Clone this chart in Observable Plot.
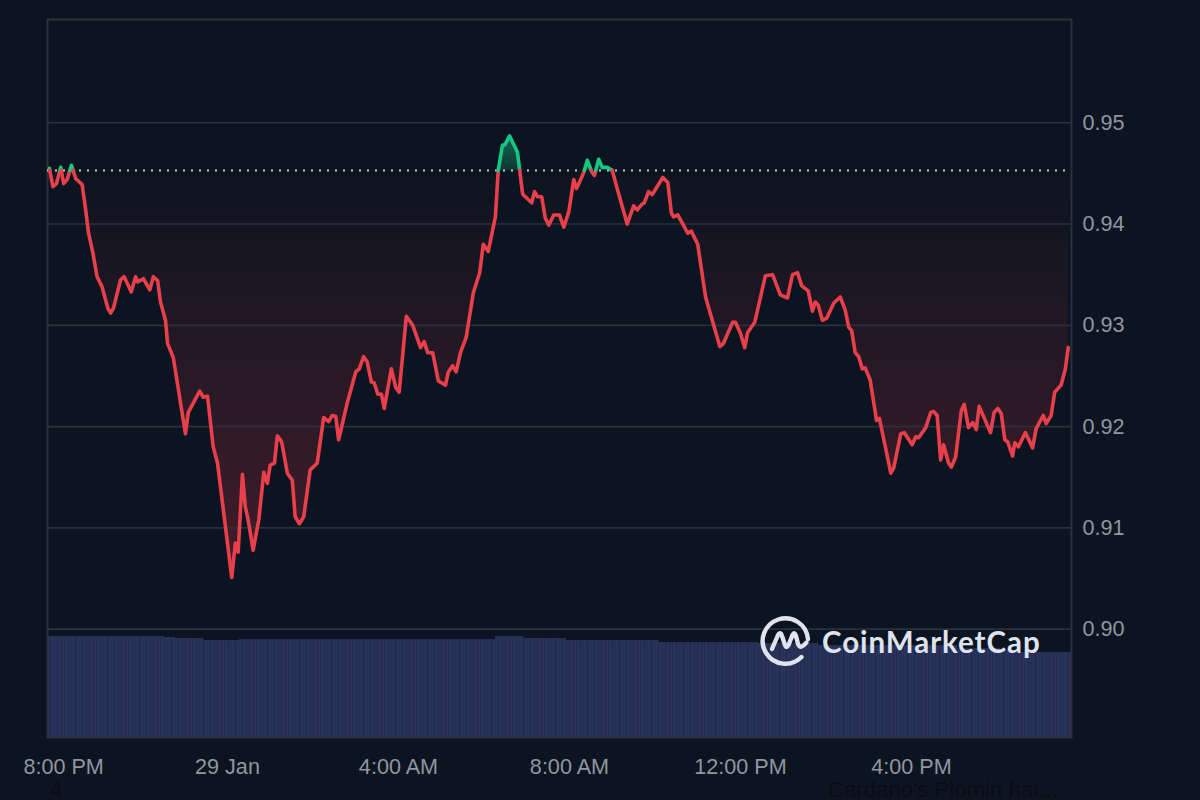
<!DOCTYPE html>
<html>
<head>
<meta charset="utf-8">
<script src="https://cdn.jsdelivr.net/npm/d3@7"></script>
<script src="https://cdn.jsdelivr.net/npm/@observablehq/plot@0.6"></script>
<style>
html,body{margin:0;padding:0;background:#0d1421;width:1200px;height:800px;overflow:hidden}
#wrap{position:relative;width:1200px;height:800px;overflow:hidden}
#wrap svg{display:block}
.note{position:absolute;font:22.2px "Liberation Sans",sans-serif;color:#090c13;white-space:nowrap;line-height:24px}
#logotext{position:absolute;left:822px;top:624px;font:700 29.5px Lato,sans-serif;color:#dfe3ee;white-space:nowrap;line-height:36px;letter-spacing:.95px}
#logoicon{position:absolute;left:751.5px;top:605.5px}
</style>
</head>
<body>
<div id="wrap"></div>
<script>
// minutes relative to midnight of 29 Jan
const minutes = [
-250,-245,-240,-234,-230,-225,-219,-213,-204,-199,
-195,-189,-183,-176,-168,-164,-160,-150,-145,-135,
-129,-126,-118,-109,-104,-98,-94,-87,-84,-76,
-59,-55,-39,-34,-28,-20,-14,6,11,15,
21,25,29,36,44,51,56,60,66,70,
76,84,91,95,101,107,116,126,135,142,
147,152,156,168,180,185,191,196,202,206,
211,216,220,230,236,241,251,260,271,276,
281,288,296,306,310,316,321,327,335,345,
354,359,366,376,380,386,389,396,407,414,
415,427,431,435,441,446,451,458,466,472,
479,486,490,500,505,511,515,521,526,533,
540,549,561,570,575,581,585,591,596,611,
618,623,626,632,646,651,660,671,691,696,
709,713,720,726,730,740,755,765,776,786,
793,800,806,815,821,825,829,835,841,851,
860,867,872,876,881,886,891,895,902,911,
915,931,935,945,950,961,966,970,980,987,
991,996,1001,1005,1012,1016,1022,1030,1034,1040,
1046,1051,1055,1071,1076,1081,1086,1091,1095,1102,
1105,1110,1120,1130,1135,1145,1149,1156,1161,1170,
1176,1180];
const prices = [
.9455,.9437,.9440,.9456,.9440,.9444,.9458,.9445,.9439,.9414,
.9391,.9372,.9348,.9338,.9317,.9312,.9317,.9345,.9348,.9333,
.9348,.9343,.9346,.9335,.9348,.9344,.9323,.9305,.9282,.9268,
.9193,.9214,.9235,.9229,.9230,.9180,.9164,.9051,.9085,.9076,
.9153,.9121,.9108,.9078,.9108,.9155,.9144,.9162,.9164,.9191,
.9185,.9154,.9147,.9111,.9104,.9111,.9157,.9164,.9209,.9205,
.9211,.9210,.9187,.9223,.9254,.9257,.9269,.9264,.9244,.9243,
.9232,.9232,.9218,.9257,.9239,.9234,.9309,.9300,.9278,.9284,
.9273,.9273,.9245,.9241,.9254,.9260,.9254,.9273,.9288,.9332,
.9352,.9380,.9373,.9407,.9453,.9478,.9478,.9487,.9471,.9431,
.9429,.9421,.9432,.9427,.9427,.9406,.9399,.9409,.9409,.9397,
.9412,.9444,.9435,.9451,.9463,.9452,.9448,.9464,.9456,.9456,
.9453,.9430,.9400,.9418,.9414,.9419,.9421,.9432,.9429,.9446,
.9441,.9411,.9407,.9409,.9391,.9393,.9380,.9328,.9279,.9282,
.9303,.9303,.9292,.9278,.9293,.9303,.9349,.9350,.9330,.9327,
.9350,.9352,.9339,.9334,.9314,.9323,.9320,.9305,.9307,.9322,
.9328,.9315,.9298,.9295,.9273,.9269,.9257,.9258,.9246,.9206,
.9208,.9154,.9159,.9193,.9194,.9182,.9190,.9189,.9199,.9214,
.9215,.9211,.9167,.9182,.9164,.9160,.9170,.9216,.9222,.9199,
.9204,.9197,.9220,.9194,.9214,.9218,.9213,.9187,.9185,.9171,
.9184,.9180,.9194,.9179,.9198,.9211,.9203,.9211,.9234,.9241,
.9257,.9278];
const basePrice = 0.9453;

// volume per five-minute bar (drawn in the lower band of the panel)
const volumes = [
101,101,101,101,101,101,101,101,101,101,101,101,
101,101,101,101,101,101,101,101,101,101,101,101,
101,101,101,101,101,101,101,101,101,100,100,100,
99,99,99,99,99,99,99,99,97,97,97,97,
97,97,97,97,97,97,98,98,98,98,98,98,
98,98,98,98,98,98,98,98,98,98,98,98,
98,98,98,98,98,98,98,98,98,98,98,98,
98,98,98,98,98,98,98,98,98,98,98,98,
98,98,98,98,98,98,98,98,98,98,98,98,
98,98,98,98,98,98,98,98,98,98,98,98,
98,98,98,98,98,98,101,101,101,101,101,101,
101,101,99,99,99,99,99,99,99,99,99,99,
99,99,97,97,97,97,97,97,97,97,97,97,
97,97,97,97,97,97,97,97,97,97,97,97,
97,97,97,97,95,95,95,95,95,95,95,95,
95,95,95,95,95,95,95,95,95,95,95,95,
95,95,95,95,95,95,95,95,94,94,94,94,
94,94,94,94,94,94,94,94,94,94,94,94,
94,92,92,92,92,92,92,92,92,92,92,92,
92,92,92,92,92,92,92,92,92,92,92,92,
92,92,92,92,92,92,92,92,92,92,92,92,
92,92,92,92,89,89,89,89,89,89,89,89,
89,89,89,89,87,87,87,87,87,85,85,85,
85,85,85,85,85,85,85,85,85,85,85,85];

const xTicks = [-230,0,240,480,720,960];
const xTickLabels = ["8:00 PM","29 Jan","4:00 AM","8:00 AM","12:00 PM","4:00 PM"];
const yTicks = [0.90,0.91,0.92,0.93,0.94,0.95];

const xDomain = [-252.6,1184.6];
const yDomain = [0.8893,0.9602];
const barMinutes = (xDomain[1]-xDomain[0])/volumes.length;
const volumeToPrice = v => yDomain[0] + v*0.0000987;

const bars = volumes.map((v,i)=>({x1:xDomain[0]+i*barMinutes,x2:xDomain[0]+(i+1)*barMinutes,y:volumeToPrice(v)}));

// split the line at the base price so each side gets its colour
const pts = [];
let seg = 0;
prices.forEach((p,i)=>{
  if(i>0){
    const a = prices[i-1], side = a>=basePrice;
    if(side !== (p>=basePrice)){
      const t = (basePrice-a)/(p-a);
      pts.push({m:minutes[i-1]+t*(minutes[i]-minutes[i-1]),p:basePrice,seg,up:side});
      seg++;
      pts.push({m:minutes[i-1]+t*(minutes[i]-minutes[i-1]),p:basePrice,seg,up:!side});
    }
  }
  pts.push({m:minutes[i],p,seg,up:p>=basePrice});
});

const gradients = () => {
  const s = d3.create("svg:defs");
  const mk=(id,col,o1,o2)=>{
    const g=s.append("linearGradient").attr("id",id).attr("x1",0).attr("x2",0).attr("y1",0).attr("y2",1);
    g.append("stop").attr("offset","0%").attr("stop-color",col).attr("stop-opacity",o1);
    g.append("stop").attr("offset","100%").attr("stop-color",col).attr("stop-opacity",o2);
  };
  mk("redfill","#ea3943",0.0,0.24);
  mk("greenfill","#16c784",0.45,0.2);
  return s.node();
};

const axisColor="#90969f";
const chart = Plot.plot({
  width:1200,height:800,
  marginLeft:47,marginRight:129,marginTop:19,marginBottom:63,
  x:{domain:xDomain,type:"linear"},
  y:{domain:yDomain},
  style:{background:"#0d1421",fontFamily:"'Liberation Sans',sans-serif"},
  marks:[
    gradients,
    Plot.rectY(bars,{x1:"x1",x2:"x2",y1:yDomain[0],y2:"y",fill:"#28325a"}),
    Plot.areaY(pts,{x:"m",y1:basePrice,y2:d=>Math.min(d.p,basePrice),fill:"url(#redfill)",z:null}),
    Plot.areaY(pts,{x:"m",y1:basePrice,y2:d=>Math.max(d.p,basePrice),fill:"url(#greenfill)",z:null}),
    Plot.ruleY(yTicks,{stroke:"#2a303d",strokeWidth:1.6}),
    Plot.frame({stroke:"#2a303d",strokeWidth:2}),
    Plot.ruleY([basePrice],{stroke:"#c9ccd4",strokeWidth:2,strokeDasharray:"2,6"}),
    Plot.line(pts,{x:"m",y:"p",z:"seg",stroke:d=>d.up?"#16c784":"#e8404b",strokeWidth:3.6,strokeLinejoin:"round",strokeLinecap:"round"}),
    Plot.axisY({anchor:"right",ticks:yTicks,tickSize:0,tickPadding:11,tickFormat:d=>d.toFixed(2),fill:axisColor,fontSize:21.6,label:null}),
    Plot.axisX({ticks:xTicks,tickSize:0,tickPadding:21,tickFormat:d=>xTickLabels[xTicks.indexOf(d)],fill:axisColor,fontSize:21.6,label:null})
  ]
});
const wrap=document.getElementById("wrap");
wrap.appendChild(chart);
wrap.insertAdjacentHTML("beforeend",`
<div class="note" style="left:50px;top:778px">4</div>
<div class="note" style="left:828px;top:778px">Cardano's Plomin har...</div>
<svg id="logoicon" width="70" height="70" viewBox="750 605 70 70" fill="none" stroke="#dfe3ee" stroke-width="4.4" stroke-linecap="round" stroke-linejoin="round">
<path d="M806 638 A22.7 22.7 0 1 0 799.5 656"/>
<path d="M770 648 L776 634 Q778.5 630 780 635 L783 644 Q784.5 648 786.5 644 L790.5 634 Q792.5 630 794 635 L796 643 Q798 648 802 644 L804.5 641.5"/>
</svg>
<div id="logotext">CoinMarketCap</div>`);
</script>
</body>
</html>
